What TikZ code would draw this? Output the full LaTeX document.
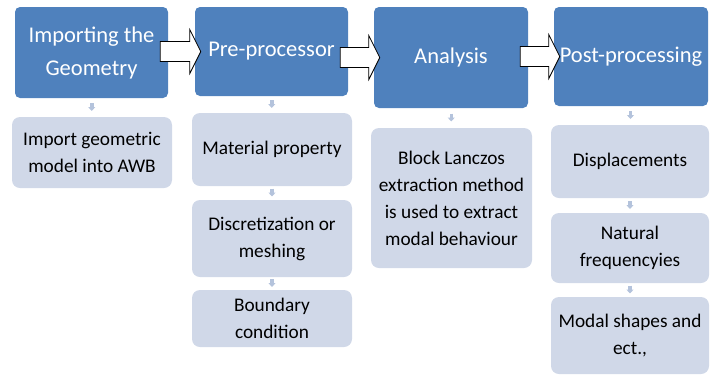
\documentclass[tikz,border=0pt]{standalone}
\usepackage{fontspec}
\setmainfont{Carlito}
\usetikzlibrary{calc,arrows.meta}

\definecolor{stageblue}{RGB}{79,129,189}
\definecolor{taskgray}{RGB}{208,216,232}
\definecolor{linkgray}{RGB}{180,195,220}

\tikzset{
  stage/.style={rounded corners=5pt, fill=stageblue, text=white, align=center,
    inner sep=0pt, font=\fontsize{22.5}{33}\selectfont},
  task/.style={rounded corners=8pt, fill=taskgray, text=black, align=center,
    inner sep=0pt, font=\fontsize{19.3}{27}\selectfont},
  link/.style={draw=linkgray, line width=3.5pt,
    -{Triangle[width=7pt,length=4pt]},
    to path={($(\tikztostart)!0.5!(\tikztotarget)+(0,-4.5)$) -- ++(0,8) \tikztonodes}},
  blockarrow/.style={draw=black, fill=white, line width=0.8pt, line join=miter}
}

% white block arrow from box #1 to box #2, centred on #2
\newcommand{\blockarrow}[2]{
\draw[blockarrow] let \p1=(#1.east), \p2=(#2.west) in
  (\x1-8pt,\y2+10pt) -- (\x2-5pt,\y2+10pt) -- (\x2-5pt,\y2+22pt)
  -- (\x2+6pt,\y2) -- (\x2-5pt,\y2-22pt) -- (\x2-5pt,\y2-10pt)
  -- (\x1-8pt,\y2-10pt) -- cycle;
}

\begin{document}
\begin{tikzpicture}[x=1pt,y=-1pt]
\useasboundingbox (0,0) rectangle (716,376);

%stages
\node[stage, minimum width=153, minimum height=91] (imp) at (91.5,52.5) {Importing the\\Geometry};
\node[stage, minimum width=153, minimum height=89] (pre) at (271.5,51.5) {Pre-processor};
\node[stage, minimum width=154, minimum height=101] (ana) at (451,57.5) {Analysis};
\node[stage, minimum width=154, minimum height=99] (post) at (631,56.5) {Post-processing};

%tasks under each stage
\node[task, minimum width=160, minimum height=71] (impA) at (92,152.5) {Import geometric\\model into AWB};

\node[task, minimum width=160, minimum height=73] (preA) at (272,149.5) {Material property};
\node[task, minimum width=160, minimum height=77] (preB) at (272,238.5) {Discretization or\\meshing};
\node[task, minimum width=160, minimum height=57] (preC) at (272,318.5) {Boundary\\condition};

\node[task, minimum width=161, minimum height=140] (anaA) at (451.5,198) {Block Lanczos\\extraction method\\is used to extract\\modal behaviour};

\node[task, minimum width=158, minimum height=73] (postA) at (630,161.5) {Displacements};
\node[task, minimum width=158, minimum height=70] (postB) at (630,248) {Natural\\frequencyies};
\node[task, minimum width=158, minimum height=77] (postC) at (630,335.5) {Modal shapes and\\ect.,};

%small down links
\draw[link] (imp.south) to (impA.north);
\draw[link] (pre.south) to (preA.north);
\draw[link] (preA.south) to (preB.north);
\draw[link] (preB.south) to (preC.north);
\draw[link] (ana.south) to (anaA.north);
\draw[link] (post.south) to (postA.north);
\draw[link] (postA.south) to (postB.north);
\draw[link] (postB.south) to (postC.north);

%block arrows between stages
\blockarrow{imp}{pre}
\blockarrow{pre}{ana}
\blockarrow{ana}{post}
\end{tikzpicture}
\end{document}
